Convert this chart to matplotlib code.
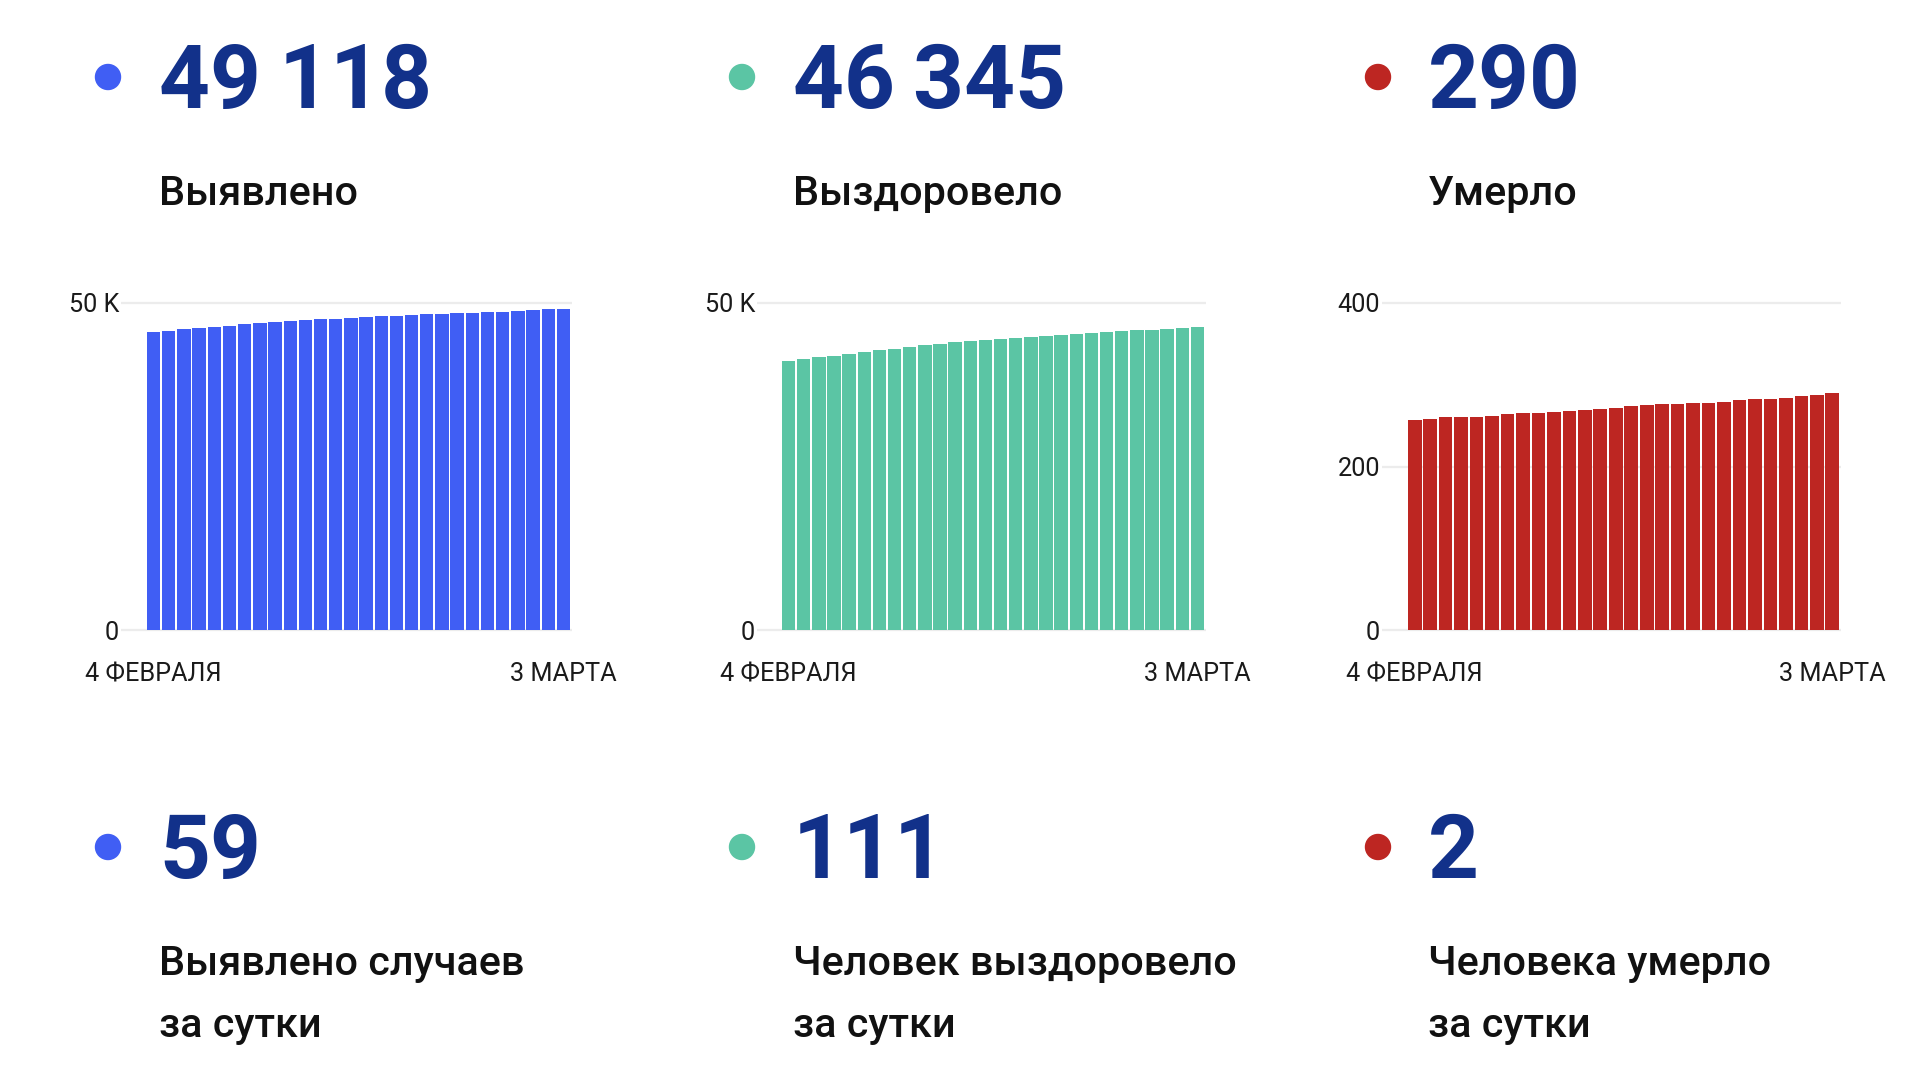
"""Covid summary card: three cumulative bar charts with headline numbers."""
import matplotlib
matplotlib.use("Agg")
import matplotlib.pyplot as plt
from matplotlib.patches import Circle

W, H = 1920, 1080

FIRST_DAY = "4 ФЕВРАЛЯ"
LAST_DAY = "3 МАРТА"

# cumulative totals, 4 Feb .. 3 Mar
detected = [45561, 45765, 45969, 46122, 46327, 46531, 46735, 46888, 47041, 47194,
            47347, 47500, 47602, 47755, 47857, 47959, 48061, 48163, 48265, 48367,
            48469, 48520, 48622, 48673, 48800, 48930, 49059, 49118]
recovered = [41173, 41429, 41684, 41939, 42194, 42500, 42755, 43010, 43265, 43520,
             43776, 43980, 44133, 44286, 44439, 44592, 44796, 44949, 45153, 45306,
             45459, 45612, 45714, 45816, 45918, 46100, 46234, 46345]
deaths = [257, 258, 260, 260, 261, 262, 264, 265, 266, 267,
          268, 269, 270, 272, 274, 275, 276, 277, 278, 278,
          279, 281, 282, 283, 284, 286, 288, 290]

totals = ["49\u2009118", "46\u2009345", "290"]
total_labels = ["Выявлено", "Выздоровело", "Умерло"]
daily = ["59", "111", "2"]
daily_labels = [["Выявлено случаев", "за сутки"],
                ["Человек выздоровело", "за сутки"],
                ["Человека умерло", "за сутки"]]

y_ticks = [[0, 50000], [0, 50000], [0, 200, 400]]
y_ticklabels = [["0", "50 K"], ["0", "50 K"], ["0", "200", "400"]]

COLORS = ["#405ef4", "#5bc5a4", "#bd2622"]
NAVY = "#12318a"

# layout in pixels: text column x, chart (grid left, bar left, bar right)
COL_X = [159, 793, 1428]
DOT_X = [108, 742, 1378]
CHARTS = [(121, 146, 571), (757, 781, 1205), (1382, 1407, 1840)]
CHART_TOP, CHART_BOTTOM = 303, 630

FONT = "Roboto"
NUM_SIZE = 64
LABEL_SIZE = 29.8
TICK_SIZE = 18.2


def chart(fig, values, color, bounds, ticks, ticklabels):
    grid_left, bar_left, bar_right = bounds
    n = len(values)
    ymax = ticks[-1]
    m = 4  # px margin so edge gridlines are not clipped
    ppu = (CHART_BOTTOM - CHART_TOP) / ymax
    rect = [grid_left / W, 1 - (CHART_BOTTOM + m) / H,
            (bar_right - grid_left + 1) / W, (CHART_BOTTOM - CHART_TOP + 2 * m) / H]
    ax = fig.add_axes(rect)
    ax.bar(range(n), values, width=0.88, color=color, zorder=2)
    unit = (bar_right - bar_left) / n
    ax.set_xlim(-0.5 - (bar_left - grid_left) / unit, n - 0.5 + 1 / unit)
    ax.set_ylim(-m / ppu, ymax + m / ppu)
    ax.set_yticks(ticks, ticklabels)
    ax.set_xticks([0, n - 1], [FIRST_DAY, LAST_DAY])
    ax.grid(axis="y", color="#ececec", lw=1.6, zorder=0)
    ax.set_axisbelow(True)
    for s in ax.spines.values():
        s.set_visible(False)
    ax.tick_params(axis="both", length=0, labelsize=TICK_SIZE, labelcolor="#1a1a1a")
    ax.tick_params(axis="y", pad=1.5)
    ax.tick_params(axis="x", pad=20.5)
    return ax


def main():
    plt.rcParams["font.family"] = [FONT, "DejaVu Sans"]
    fig = plt.figure(figsize=(W / 100, H / 100), dpi=100)
    fig.patch.set_facecolor("white")

    over = fig.add_axes([0, 0, 1, 1])
    over.set_xlim(0, W)
    over.set_ylim(H, 0)
    over.axis("off")

    series = [detected, recovered, deaths]
    for i in range(3):
        chart(fig, series[i], COLORS[i], CHARTS[i], y_ticks[i], y_ticklabels[i])
        # headline totals
        over.add_patch(Circle((DOT_X[i], 77), 12.5, color=COLORS[i]))
        over.text(COL_X[i], 108, totals[i], fontsize=NUM_SIZE, fontweight="bold",
                  color=NAVY, va="baseline")
        over.text(COL_X[i], 205, total_labels[i], fontsize=LABEL_SIZE, fontweight=500,
                  color="#111111", va="baseline")
        # daily numbers
        over.add_patch(Circle((DOT_X[i], 847), 12.5, color=COLORS[i]))
        over.text(COL_X[i], 878, daily[i], fontsize=NUM_SIZE, fontweight="bold",
                  color=NAVY, va="baseline")
        for k, line in enumerate(daily_labels[i]):
            over.text(COL_X[i], 975 + 62 * k, line, fontsize=LABEL_SIZE, fontweight=500,
                      color="#111111", va="baseline")

    fig.savefig("out.png", dpi=100)


if __name__ == "__main__":
    main()
